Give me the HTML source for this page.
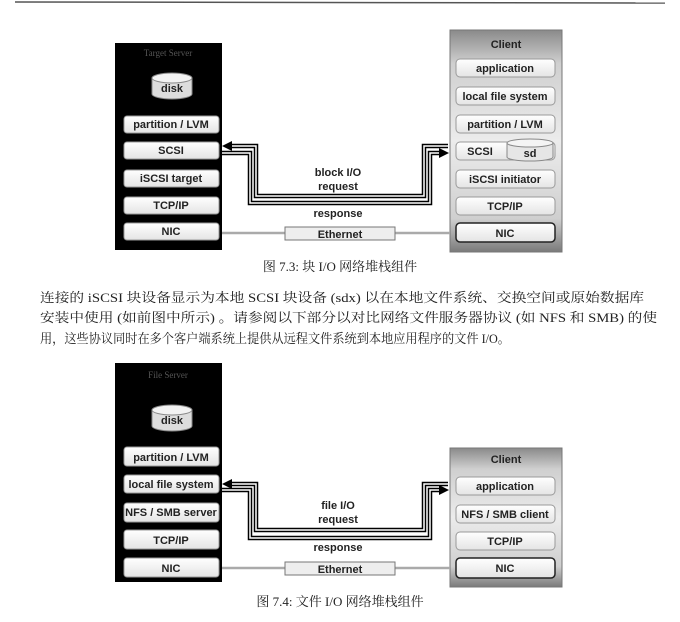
<!DOCTYPE html>
<html><head><meta charset="utf-8"><style>
html,body{margin:0;padding:0;background:#fff;}
svg{display:block;}
.b{font-family:"Liberation Sans","DejaVu Sans",sans-serif;font-weight:bold;font-size:11px;fill:#222;}
.s{font-family:"Liberation Serif","Noto Serif CJK SC",serif;font-size:13px;fill:#222;}
</style></head><body>
<svg width="680" height="622" viewBox="0 0 680 622" xmlns="http://www.w3.org/2000/svg">
<defs>
<linearGradient id="cg" x1="0" y1="0" x2="0" y2="1">
<stop offset="0" stop-color="#8a8a8a"/><stop offset="0.15" stop-color="#cfcfcf"/><stop offset="0.5" stop-color="#ececec"/><stop offset="0.85" stop-color="#cfcfcf"/><stop offset="1" stop-color="#7a7a7a"/>
</linearGradient>
<linearGradient id="bx" x1="0" y1="0" x2="0" y2="1"><stop offset="0" stop-color="#fff"/><stop offset="1" stop-color="#e4e4e4"/></linearGradient>
</defs>
<line x1="15" y1="2" x2="665" y2="3" stroke="#555" stroke-width="1.5"/>

<!-- TOP DIAGRAM -->
<rect x="115" y="43" width="107" height="207" fill="#000"/>
<text x="168" y="56" text-anchor="middle" font-family="Liberation Serif,serif" font-size="9" fill="#555">Target Server</text>
<path d="M152,78 v16 a20,5 0 0 0 40,0 v-16" fill="#ddd" stroke="#888"/>
<ellipse cx="172" cy="78" rx="20" ry="5" fill="#f2f2f2" stroke="#888"/>
<text x="172" y="92" class="b" text-anchor="middle">disk</text>
<g fill="url(#bx)" stroke="#999">
<rect x="124" y="116" width="95" height="17" rx="3"/>
<rect x="124" y="142" width="95" height="17" rx="3"/>
<rect x="124" y="170" width="95" height="17" rx="3"/>
<rect x="124" y="197" width="95" height="17" rx="3"/>
<rect x="124" y="223" width="95" height="17" rx="3"/>
</g>
<text x="171" y="128" class="b" text-anchor="middle">partition / LVM</text>
<text x="171" y="154" class="b" text-anchor="middle">SCSI</text>
<text x="171" y="182" class="b" text-anchor="middle">iSCSI target</text>
<text x="171" y="209" class="b" text-anchor="middle">TCP/IP</text>
<text x="171" y="235" class="b" text-anchor="middle">NIC</text>

<rect x="450" y="30" width="112" height="222" fill="url(#cg)" stroke="#777"/>
<text x="506" y="48" class="b" text-anchor="middle" font-size="10">Client</text>
<g fill="url(#bx)" stroke="#999">
<rect x="456" y="59" width="99" height="18" rx="4"/>
<rect x="456" y="87" width="99" height="18" rx="4"/>
<rect x="456" y="115" width="99" height="18" rx="4"/>
<rect x="456" y="142" width="99" height="18" rx="4"/>
<rect x="456" y="170" width="99" height="18" rx="4"/>
<rect x="456" y="197" width="99" height="18" rx="4"/>
<rect x="456" y="223" width="99" height="19" rx="4" stroke="#222" stroke-width="1.5"/>
</g>
<path d="M507,143 v14 a23,4 0 0 0 46,0 v-14" fill="#e6e6e6" stroke="#888"/>
<ellipse cx="530" cy="143" rx="23" ry="4" fill="#f4f4f4" stroke="#888"/>
<text x="505" y="72" class="b" text-anchor="middle">application</text>
<text x="505" y="100" class="b" text-anchor="middle">local file system</text>
<text x="505" y="128" class="b" text-anchor="middle">partition / LVM</text>
<text x="480" y="155" class="b" text-anchor="middle">SCSI</text>
<text x="530" y="157" class="b" text-anchor="middle">sd</text>
<text x="505" y="183" class="b" text-anchor="middle">iSCSI initiator</text>
<text x="505" y="210" class="b" text-anchor="middle">TCP/IP</text>
<text x="505" y="237" class="b" text-anchor="middle">NIC</text>

<g fill="none" stroke-linejoin="miter">
<path d="M448,146 H424 V196 H256 V146 H230" stroke="#000" stroke-width="4.5"/>
<path d="M448,146 H424 V196 H256 V146 H230" stroke="#fff" stroke-width="1.5"/>
<path d="M222,153 H250 V203 H430 V153 H440" stroke="#000" stroke-width="4.5"/>
<path d="M222,153 H250 V203 H430 V153 H440" stroke="#fff" stroke-width="1.5"/>
</g>
<polygon points="222,146 232,141 232,151" fill="#000"/>
<polygon points="449,153 439,148 439,158" fill="#000"/>
<text x="338" y="176" class="b" text-anchor="middle">block I/O</text>
<text x="338" y="190" class="b" text-anchor="middle">request</text>
<text x="338" y="217" class="b" text-anchor="middle">response</text>
<line x1="222" y1="233" x2="450" y2="233" stroke="#aaa" stroke-width="2.5"/>
<rect x="285" y="227" width="110" height="13" fill="#eee" stroke="#777"/>
<text x="340" y="238" class="b" text-anchor="middle">Ethernet</text>
<text x="340" y="271" class="s" text-anchor="middle">图 7.3: 块 I/O 网络堆栈组件</text>

<!-- PARAGRAPH -->
<text x="40" y="302" class="s" textLength="604" lengthAdjust="spacingAndGlyphs">连接的 iSCSI 块设备显示为本地 SCSI 块设备 (sdx) 以在本地文件系统、交换空间或原始数据库</text>
<text x="40" y="322" class="s" textLength="617" lengthAdjust="spacingAndGlyphs">安装中使用 (如前图中所示) 。请参阅以下部分以对比网络文件服务器协议 (如 NFS 和 SMB) 的使</text>
<text x="40" y="343" class="s" textLength="470" lengthAdjust="spacingAndGlyphs">用，这些协议同时在多个客户端系统上提供从远程文件系统到本地应用程序的文件 I/O。</text>

<!-- BOTTOM DIAGRAM -->
<rect x="115" y="363" width="107" height="219" fill="#000"/>
<text x="168" y="378" text-anchor="middle" font-family="Liberation Serif,serif" font-size="9" fill="#555">File Server</text>
<path d="M152,410 v16 a20,5 0 0 0 40,0 v-16" fill="#ddd" stroke="#888"/>
<ellipse cx="172" cy="410" rx="20" ry="5" fill="#f2f2f2" stroke="#888"/>
<text x="172" y="424" class="b" text-anchor="middle">disk</text>
<g fill="url(#bx)" stroke="#999">
<rect x="124" y="447" width="95" height="19" rx="3"/>
<rect x="124" y="475" width="95" height="18" rx="3"/>
<rect x="124" y="503" width="95" height="19" rx="3"/>
<rect x="124" y="530" width="95" height="19" rx="3"/>
<rect x="124" y="558" width="95" height="19" rx="3"/>
</g>
<text x="171" y="461" class="b" text-anchor="middle">partition / LVM</text>
<text x="171" y="488" class="b" text-anchor="middle">local file system</text>
<text x="171" y="516" class="b" text-anchor="middle">NFS / SMB server</text>
<text x="171" y="544" class="b" text-anchor="middle">TCP/IP</text>
<text x="171" y="572" class="b" text-anchor="middle">NIC</text>

<rect x="450" y="448" width="112" height="139" fill="url(#cg)" stroke="#777"/>
<text x="506" y="463" class="b" text-anchor="middle" font-size="10">Client</text>
<g fill="url(#bx)" stroke="#999">
<rect x="456" y="477" width="99" height="18" rx="4"/>
<rect x="456" y="505" width="99" height="18" rx="4"/>
<rect x="456" y="532" width="99" height="18" rx="4"/>
<rect x="456" y="558" width="99" height="20" rx="4" stroke="#222" stroke-width="1.5"/>
</g>
<text x="505" y="490" class="b" text-anchor="middle">application</text>
<text x="505" y="518" class="b" text-anchor="middle">NFS / SMB client</text>
<text x="505" y="545" class="b" text-anchor="middle">TCP/IP</text>
<text x="505" y="572" class="b" text-anchor="middle">NIC</text>

<g fill="none">
<path d="M448,484 H424 V530 H256 V484 H230" stroke="#000" stroke-width="4.5"/>
<path d="M448,484 H424 V530 H256 V484 H230" stroke="#fff" stroke-width="1.5"/>
<path d="M222,490 H250 V538 H430 V490 H440" stroke="#000" stroke-width="4.5"/>
<path d="M222,490 H250 V538 H430 V490 H440" stroke="#fff" stroke-width="1.5"/>
</g>
<polygon points="222,484 232,479 232,489" fill="#000"/>
<polygon points="449,490 439,485 439,495" fill="#000"/>
<text x="338" y="509" class="b" text-anchor="middle">file I/O</text>
<text x="338" y="523" class="b" text-anchor="middle">request</text>
<text x="338" y="551" class="b" text-anchor="middle">response</text>
<line x1="222" y1="568" x2="450" y2="568" stroke="#aaa" stroke-width="2.5"/>
<rect x="285" y="562" width="110" height="13" fill="#eee" stroke="#777"/>
<text x="340" y="573" class="b" text-anchor="middle">Ethernet</text>
<text x="340" y="606" class="s" text-anchor="middle">图 7.4: 文件 I/O 网络堆栈组件</text>
</svg>
</body></html>
